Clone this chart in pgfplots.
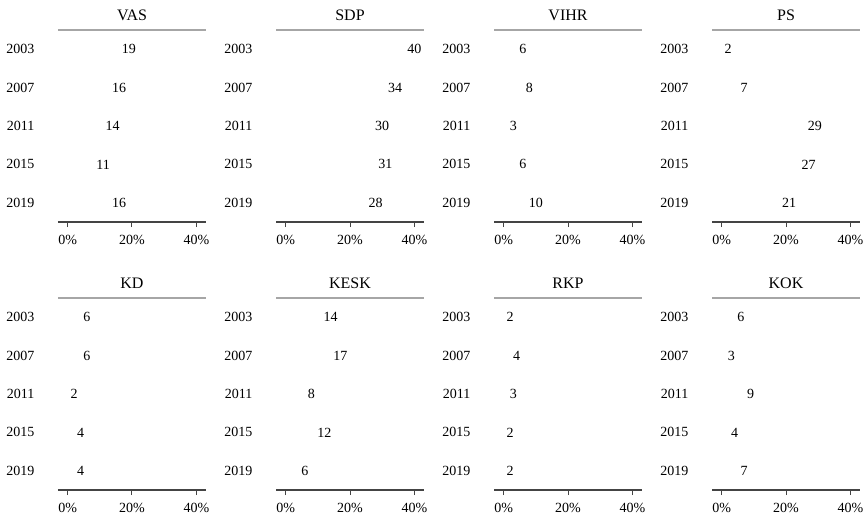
\documentclass[border=0pt]{standalone}
\usepackage{pgfplots}
\pgfplotsset{compat=1.18}
\usepackage{fontspec}
\setmainfont{Liberation Serif}

\definecolor{topline}{HTML}{A6A6A6}
\definecolor{axisline}{HTML}{444444}

\pgfplotsset{
  panel/.style={
    anchor=south west, scale only axis,
    width=148pt, height=192pt,
    xmin=-3, xmax=43, ymin=-0.5, ymax=4.5,
    axis x line*=bottom, axis y line*=left,
    x axis line style={draw=axisline, line width=1.2pt, -},
    y axis line style={draw=none},
    xtick={0,20,40}, xticklabels={0\%,20\%,40\%},
    xtick style={draw=axisline, line width=1pt},
    tick align=outside, major tick length=5pt,
    ytick={0,1,2,3,4}, yticklabels={2019,2015,2011,2007,2003},
    ytick style={draw=none},
    yticklabel style={font=\fontsize{14}{14}\selectfont, xshift=-15pt},
    xticklabel style={font=\fontsize{14}{14}\selectfont, yshift=-5pt},
    /pgf/number format/assume math mode=true,
    title style={font=\fontsize{16}{16}\selectfont, at={(0.5,1)}, anchor=south, yshift=0pt},
    clip=false,
  },
  vals/.style={draw=none, mark=none, nodes near coords, point meta=x,
    nodes near coords style={anchor=center, font=\fontsize{14}{14}\selectfont, text=black}},
}

\newcommand{\panel}[4]{%
\begin{axis}[panel, at={(#1pt,#2pt)}, title={#3}]
\addplot[vals] coordinates {#4};
\draw[topline, line width=2pt] (axis description cs:0,1) -- (axis description cs:1,1);
\end{axis}}

\begin{document}
\begin{tikzpicture}
\path (0,0) rectangle (867pt,-517pt);
\panel{58}{-222}{VAS}{(19,4) (16,3) (14,2) (11,1) (16,0)}
\panel{276}{-222}{SDP}{(40,4) (34,3) (30,2) (31,1) (28,0)}
\panel{494}{-222}{VIHR}{(6,4) (8,3) (3,2) (6,1) (10,0)}
\panel{712}{-222}{PS}{(2,4) (7,3) (29,2) (27,1) (21,0)}
\panel{58}{-490}{KD}{(6,4) (6,3) (2,2) (4,1) (4,0)}
\panel{276}{-490}{KESK}{(14,4) (17,3) (8,2) (12,1) (6,0)}
\panel{494}{-490}{RKP}{(2,4) (4,3) (3,2) (2,1) (2,0)}
\panel{712}{-490}{KOK}{(6,4) (3,3) (9,2) (4,1) (7,0)}
\end{tikzpicture}
\end{document}
